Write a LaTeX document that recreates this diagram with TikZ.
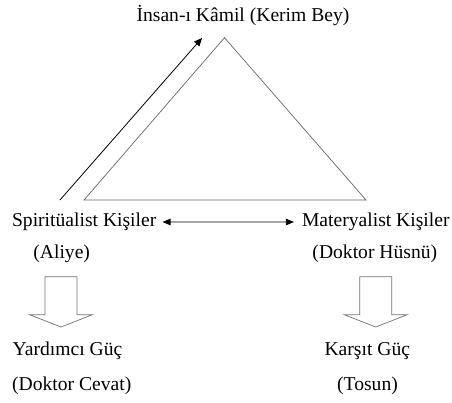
\documentclass[tikz,border=0pt]{standalone}
\usepackage{fontspec}
\setmainfont{Liberation Serif}
\usepackage{tikz}
\usetikzlibrary{arrows.meta,calc}

\begin{document}
\begin{tikzpicture}[x=1pt,y=1pt,
  lbl/.style={anchor=base,inner sep=2pt,font=\fontsize{19.6}{23}\selectfont},
  tri/.style={draw=black!60,line width=0.7pt},
  arr/.style={-{Triangle[length=8pt,width=7pt]},line width=0.8pt},
  both/.style={{Triangle[length=8pt,width=6.5pt]}-{Triangle[length=8pt,width=6.5pt]},line width=0.8pt},
  hollow/.style={draw=black!55,line width=0.7pt,fill=white}
]
  \useasboundingbox (0,0) rectangle (452,-403);
  % labels
  \node[lbl] (kamil) at (243,-21.7) {İnsan-ı Kâmil (Kerim Bey)};
  \node[lbl] (spir) at (84.2,-226.7) {Spiritüalist Kişiler};
  \node[lbl] (mat) at (375.8,-226.7) {Materyalist Kişiler};
  \node[lbl] (aliye) at (61.7,-258.3) {(Aliye)};
  \node[lbl] (husnu) at (374.8,-258.3) {(Doktor Hüsnü)};
  \node[lbl] (yard) at (67.5,-355.7) {Yardımcı Güç};
  \node[lbl] (cevat) at (71.7,-390.5) {(Doktor Cevat)};
  \node[lbl] (karsit) at (367.3,-355.7) {Karşıt Güç};
  \node[lbl] (tosun) at (367.5,-390.5) {(Tosun)};
  % triangle
  \coordinate (top) at (224.5,-37.7);
  \coordinate (bl) at (84,-200);
  \coordinate (br) at (366,-200);
  \draw[tri] (bl) -- (top) -- (br) -- cycle;
  % rising arrow
  \coordinate (rise0) at (60,-200);
  \coordinate (rise1) at (202,-38);
  \draw[arr] (rise0) -- (rise1);
  \draw[both,shorten <=4pt,shorten >=6pt] (spir.east) -- (mat.west);
  % hollow arrows
  \coordinate (la) at (61,-276.7);
  \coordinate (ra) at (375.7,-276.7);
  \foreach \c in {la,ra}
    \draw[hollow] (\c) ++(-16,0) -- ++(0,-38) -- ++(-15.5,0) -- ++(31.5,-12.3)
      -- ++(31.5,12.3) -- ++(-15.5,0) -- ++(0,38) -- cycle;
\end{tikzpicture}
\end{document}
